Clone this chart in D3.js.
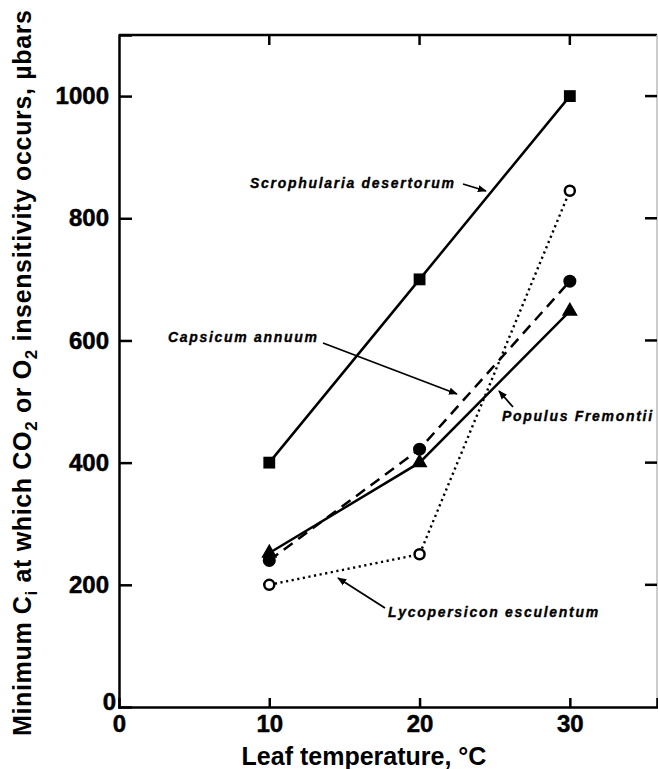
<!DOCTYPE html>
<html lang="en">
<head>
	<meta charset="UTF-8">
	<title>Minimum Ci vs leaf temperature</title>
	<script src="https://cdn.jsdelivr.net/npm/d3@7"></script>
	<style>
		body { margin: 0; background: #fff; }
		text { font-family: "Liberation Sans", Arial, sans-serif; fill: #000; }
		.tick-label { font-size: 24px; font-weight: bold; stroke: #000; stroke-width: 0.5px; }
		.title { font-size: 25px; font-weight: bold; }
		.note { font-size: 14px; font-weight: bold; font-style: italic; letter-spacing: 1.7px; stroke: #000; stroke-width: 0.35px; }
	</style>
</head>
<body>
<script>
	// data
	var temps = [10, 20, 30];
	var scrophularia = [400, 700, 1000];
	var lycopersicon = [200, 250, 845];
	var capsicum = [240, 422, 697];
	var populus = [252, 400, 648];

	var xTicks = [0, 10, 20, 30];
	var yTicks = [200, 400, 600, 800, 1000];

	var width = 658, height = 769;

	var svg = d3.select('body').append('svg')
		.attr('width', width)
		.attr('height', height);

	var x = d3.scaleLinear().domain([0, 35.8]).range([119, 657]);
	var y = d3.scaleLinear().domain([0, 1100]).range([707, 35]);

	// frame
	svg.append('line').attr('x1', x(0)).attr('x2', x(35.8)).attr('y1', y(1100)).attr('y2', y(1100))
		.attr('stroke', '#000').attr('stroke-width', 2.5);
	svg.append('line').attr('x1', x(35.8)).attr('x2', x(35.8)).attr('y1', y(1100)).attr('y2', y(0))
		.attr('stroke', '#bbb').attr('stroke-width', 1.5);

	var xAxis = svg.append('g')
		.attr('transform', 'translate(0,' + y(0) + ')')
		.call(d3.axisBottom(x).tickValues(xTicks).tickSize(-9).tickPadding(9).tickFormat(d3.format('d')));
	var yAxis = svg.append('g')
		.attr('transform', 'translate(' + x(0) + ',0)')
		.call(d3.axisLeft(y).tickValues([0].concat(yTicks)).tickSize(-13).tickPadding(10).tickFormat(d3.format('d')));

	[xAxis, yAxis].forEach(function (g) {
		g.select('.domain').attr('stroke', '#000').attr('stroke-width', 2.5);
		g.selectAll('.tick line').attr('stroke', '#000').attr('stroke-width', 2.5);
		g.selectAll('.tick text').attr('class', 'tick-label').attr('font-size', null).attr('font-family', null);
		g.attr('font-size', null).attr('font-family', null);
	});
	xAxis.selectAll('.tick').filter(function (d) { return d === 0; }).select('line').remove();
	yAxis.selectAll('.tick').filter(function (d) { return d === 0; }).select('line').remove();
	yAxis.selectAll('.tick').filter(function (d) { return d === 0; }).select('text').attr('dy', '0.1em').attr('x', -3);
	xAxis.selectAll('.tick text').attr('dy', '0.65em');

	// top ticks and right ticks
	svg.append('g').selectAll('line').data(xTicks.slice(1)).enter().append('line')
		.attr('x1', function (d) { return x(d); }).attr('x2', function (d) { return x(d); })
		.attr('y1', y(1100)).attr('y2', y(1100) + 10)
		.attr('stroke', '#000').attr('stroke-width', 2.5);
	svg.append('g').selectAll('line').data(yTicks).enter().append('line')
		.attr('x1', x(35.8)).attr('x2', x(35.8) - 12)
		.attr('y1', function (d) { return y(d); }).attr('y2', function (d) { return y(d); })
		.attr('stroke', '#000').attr('stroke-width', 2.5);

	// axis titles
	svg.append('text').attr('class', 'title')
		.attr('x', 364).attr('y', 765)
		.attr('font-size', 26)
		.attr('text-anchor', 'middle')
		.text('Leaf temperature, °C');

	var yt = svg.append('text').attr('class', 'title')
		.attr('transform', 'translate(31,' + 373 + ') rotate(-90)')
		.attr('text-anchor', 'middle')
		.attr('textLength', 726).attr('lengthAdjust', 'spacing');
	yt.append('tspan').text('Minimum C');
	yt.append('tspan').attr('font-size', 17).attr('dy', 6).text('i');
	yt.append('tspan').attr('dy', -6).text('  at which CO');
	yt.append('tspan').attr('font-size', 17).attr('dy', 6).text('2');
	yt.append('tspan').attr('dy', -6).text(' or O');
	yt.append('tspan').attr('font-size', 17).attr('dy', 6).text('2');
	yt.append('tspan').attr('dy', -6).text(' insensitivity occurs, µbars');

	// series lines
	var line = d3.line()
		.x(function (d, i) { return x(temps[i]); })
		.y(function (d) { return y(d); });

	svg.append('path').datum(scrophularia).attr('d', line)
		.attr('fill', 'none').attr('stroke', '#000').attr('stroke-width', 2.5);
	svg.append('path').datum(lycopersicon).attr('d', line)
		.attr('fill', 'none').attr('stroke', '#000').attr('stroke-width', 2.4)
		.attr('stroke-dasharray', '2.2,3.5');
	svg.append('path').datum(capsicum).attr('d', line)
		.attr('fill', 'none').attr('stroke', '#000').attr('stroke-width', 2.5)
		.attr('stroke-dasharray', '11,7');
	svg.append('path').datum(populus).attr('d', line)
		.attr('fill', 'none').attr('stroke', '#000').attr('stroke-width', 2.5);

	// markers
	var sym = function (type, size) { return d3.symbol().type(type).size(size); };
	svg.append('g').selectAll('path').data(scrophularia).enter().append('path')
		.attr('transform', function (d, i) { return 'translate(' + x(temps[i]) + ',' + y(d) + ')'; })
		.attr('d', sym(d3.symbolSquare, 140)).attr('fill', '#000');
	svg.append('g').selectAll('path').data(populus).enter().append('path')
		.attr('transform', function (d, i) { return 'translate(' + x(temps[i]) + ',' + y(d) + ')'; })
		.attr('d', sym(d3.symbolTriangle, 110)).attr('fill', '#000');
	svg.append('g').selectAll('circle').data(capsicum).enter().append('circle')
		.attr('cx', function (d, i) { return x(temps[i]); }).attr('cy', function (d) { return y(d); })
		.attr('r', 6.5).attr('fill', '#000');
	svg.append('g').selectAll('circle').data(lycopersicon).enter().append('circle')
		.attr('cx', function (d, i) { return x(temps[i]); }).attr('cy', function (d) { return y(d); })
		.attr('r', 5).attr('fill', '#fff').attr('stroke', '#000').attr('stroke-width', 2.5);

	// annotations
	svg.append('defs').append('marker')
		.attr('id', 'head').attr('viewBox', '0 0 10 10').attr('refX', 9).attr('refY', 5)
		.attr('markerWidth', 5).attr('markerHeight', 5).attr('orient', 'auto')
		.append('path').attr('d', 'M0,1 L10,5 L0,9 Z').attr('fill', '#000');

	var notes = [
		{ text: 'Scrophularia desertorum', tx: 250, ty: 188, from: [463, 184], to: [486, 191] },
		{ text: 'Capsicum annuum', tx: 168, ty: 342, from: [323, 343], to: [457, 394] },
		{ text: 'Populus Fremontii', tx: 502, ty: 421, from: [513, 407], to: [499, 391] },
		{ text: 'Lycopersicon esculentum', tx: 388, ty: 617, from: [385, 608], to: [338, 578] }
	];
	notes.forEach(function (n) {
		svg.append('text').attr('class', 'note').attr('x', n.tx).attr('y', n.ty).text(n.text);
		svg.append('line')
			.attr('x1', n.from[0]).attr('y1', n.from[1]).attr('x2', n.to[0]).attr('y2', n.to[1])
			.attr('stroke', '#000').attr('stroke-width', 1.8).attr('marker-end', 'url(#head)');
	});
</script>
</body>
</html>
